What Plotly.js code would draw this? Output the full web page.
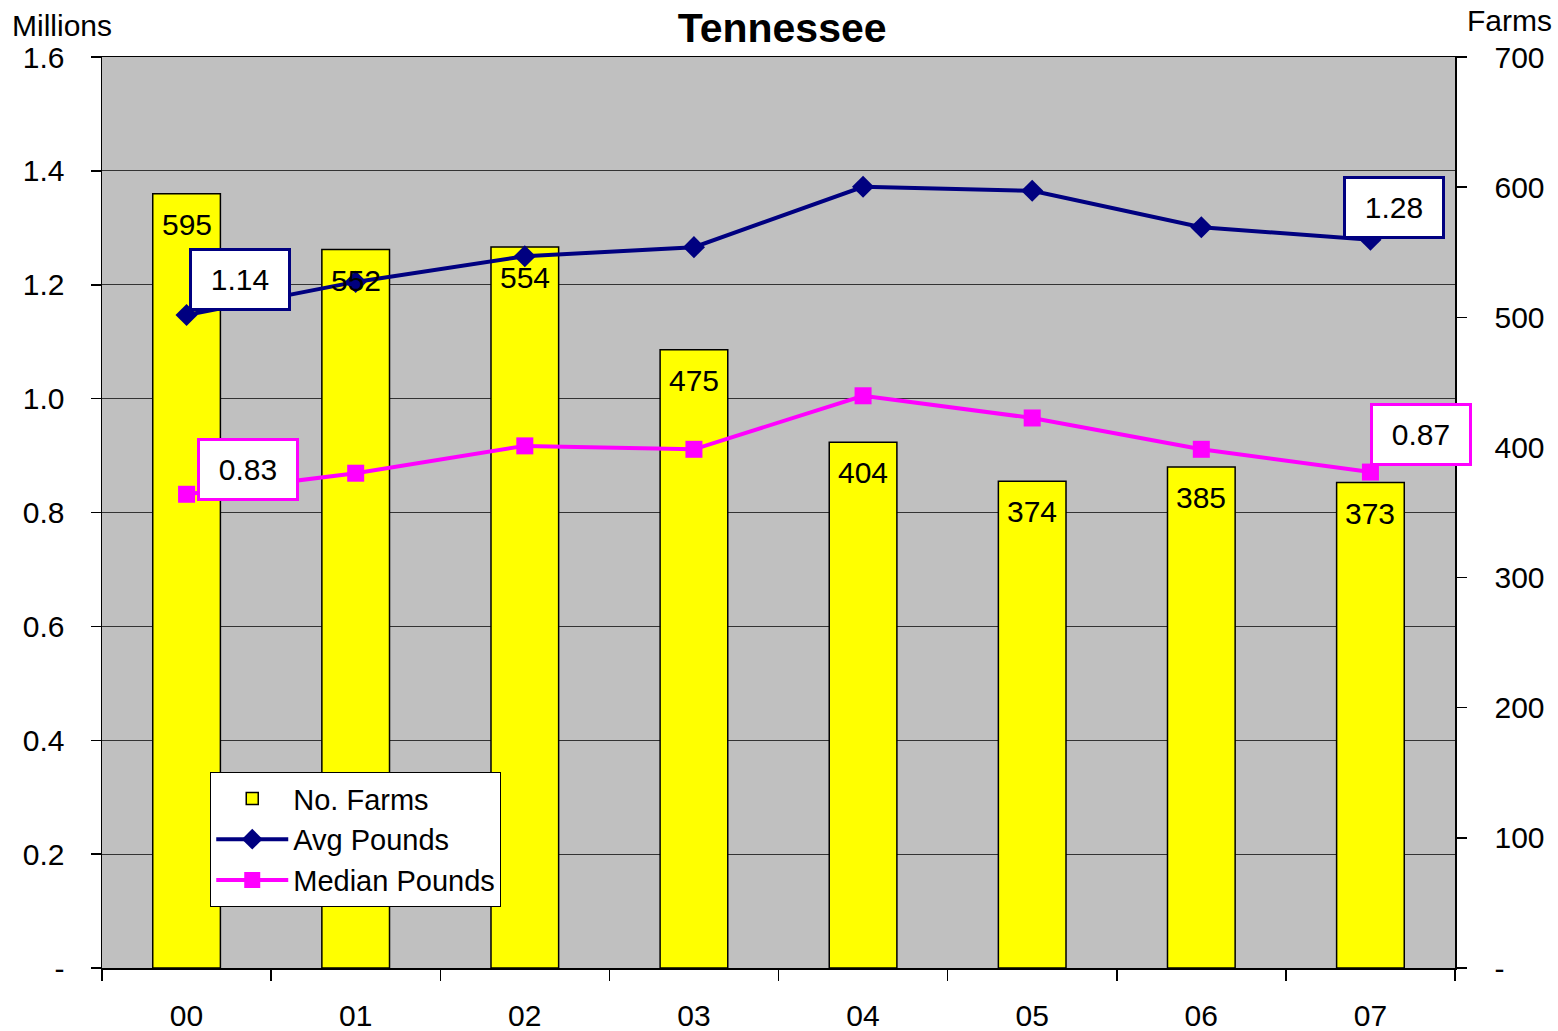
<!DOCTYPE html>
<html>
<head>
<meta charset="utf-8">
<script src="https://cdn.plot.ly/plotly-3.0.1.min.js"></script>
<style>html,body{margin:0;padding:0;background:#fff;}#chart{width:1558px;height:1031px;}</style>
</head>
<body>
<div id="chart"></div>
<script>
const years = ["00","01","02","03","04","05","06","07"];
const farms = [595, 552, 554, 475, 404, 374, 385, 373];
const avgPounds = [1.147, 1.205, 1.250, 1.266, 1.372, 1.365, 1.301, 1.279];
const medianPounds = [0.832, 0.869, 0.917, 0.911, 1.005, 0.966, 0.911, 0.871];
const leftTicks = [0, 0.2, 0.4, 0.6, 0.8, 1.0, 1.2, 1.4, 1.6];
const leftTickText = ["-", "0.2", "0.4", "0.6", "0.8", "1.0", "1.2", "1.4", "1.6"];
const rightTicks = [0, 100, 200, 300, 400, 500, 600, 700];
const rightTickText = ["-", "100", "200", "300", "400", "500", "600", "700"];
const calloutAvg = [{i:0, label:"1.14"}, {i:7, label:"1.28"}];
const calloutMed = [{i:0, label:"0.83"}, {i:7, label:"0.87"}];

const font = "Liberation Sans, Arial, sans-serif";

const traces = [
  {type:"bar", x:years, y:farms, xaxis:"x", yaxis:"y", name:"No. Farms",
   marker:{color:"#FFFF00", line:{color:"#000", width:1.5}}, width:0.4, hoverinfo:"skip"},
  {type:"scatter", mode:"lines+markers", x:years, y:avgPounds, xaxis:"x", yaxis:"y2", name:"Avg Pounds",
   line:{color:"#000080", width:4}, marker:{symbol:"diamond", size:17, color:"#000080"}},
  {type:"scatter", mode:"lines+markers", x:years, y:medianPounds, xaxis:"x", yaxis:"y2", name:"Median Pounds",
   line:{color:"#FF00FF", width:4}, marker:{symbol:"square", size:17, color:"#FF00FF"}}
];

const annotations = [];
farms.forEach((v, i) => {
  annotations.push({x:years[i], y:v, xref:"x", yref:"y", text:String(v), showarrow:false,
    yanchor:"top", yshift:-12, font:{family:font, size:30, color:"#000"}});
});
const offsets = {avg:[[53,35],[24,32]], med:[[61,25],[51,38]]};
calloutAvg.forEach((c, k) => {
  annotations.push({x:years[c.i], y:avgPounds[c.i], xref:"x", yref:"y2", text:c.label,
    showarrow:false, xshift:offsets.avg[k][0], yshift:offsets.avg[k][1],
    bgcolor:"#fff", bordercolor:"#000080", borderwidth:3, borderpad:12,
    width:72, font:{family:font, size:30, color:"#000"}});
});
calloutMed.forEach((c, k) => {
  annotations.push({x:years[c.i], y:medianPounds[c.i], xref:"x", yref:"y2", text:c.label,
    showarrow:false, xshift:offsets.med[k][0], yshift:offsets.med[k][1],
    bgcolor:"#fff", bordercolor:"#FF00FF", borderwidth:3, borderpad:12,
    width:72, font:{family:font, size:30, color:"#000"}});
});
annotations.push({xref:"paper", yref:"paper", x:-0.068, y:1.0, xanchor:"left", yanchor:"bottom",
  yshift:13, text:"Millions", showarrow:false, font:{family:font, size:30, color:"#000"}});
annotations.push({xref:"paper", yref:"paper", x:1.0, y:1.0, xanchor:"left", yanchor:"bottom",
  xshift:10, yshift:18, text:"Farms", showarrow:false, font:{family:font, size:30, color:"#000"}});

const layout = {
  width:1558, height:1031,
  margin:{l:102, r:103, t:57, b:63},
  paper_bgcolor:"#fff", plot_bgcolor:"#C0C0C0",
  title:{text:"<b>Tennessee</b>", font:{family:font, size:41, color:"#000"}, x:0.502, xanchor:"center", y:0.973, yanchor:"middle"},
  showlegend:true,
  legend:{x:0.08, y:0.215, xanchor:"left", yanchor:"top", bgcolor:"#fff", bordercolor:"#000", borderwidth:1,
    font:{family:font, size:29, color:"#000"}, tracegroupgap:0, itemwidth:72},
  xaxis:{type:"category", range:[-0.5, 7.5], tickson:"boundaries", ticks:"outside", ticklen:11, tickcolor:"#000", tickwidth:1.5,
    showline:true, linecolor:"#000", linewidth:1.5, mirror:true, showgrid:false, anchor:"y",
    tickfont:{family:font, size:30, color:"#000"}, ticklabelstandoff:20},
  yaxis:{range:[0,700], tickvals:rightTicks, ticktext:rightTickText, side:"right", anchor:"x",
    ticks:"outside", ticklen:10, tickcolor:"#000", tickwidth:1.5, showline:true, linecolor:"#000", linewidth:1.5,
    showgrid:false, zeroline:false, tickfont:{family:font, size:30, color:"#000"}, ticklabelstandoff:22},
  yaxis2:{range:[0,1.6], tickvals:leftTicks, ticktext:leftTickText, side:"left", overlaying:"y", anchor:"x",
    ticks:"outside", ticklen:10, tickcolor:"#000", tickwidth:1.5, showline:true, linecolor:"#000", linewidth:1.5,
    showgrid:true, gridcolor:"#333333", gridwidth:1, zeroline:false,
    tickfont:{family:font, size:30, color:"#000"}, ticklabelstandoff:20},
  annotations:annotations,
  bargap:0.6
};

Plotly.newPlot("chart", traces, layout, {displayModeBar:false, staticPlot:true});
</script>
</body>
</html>
